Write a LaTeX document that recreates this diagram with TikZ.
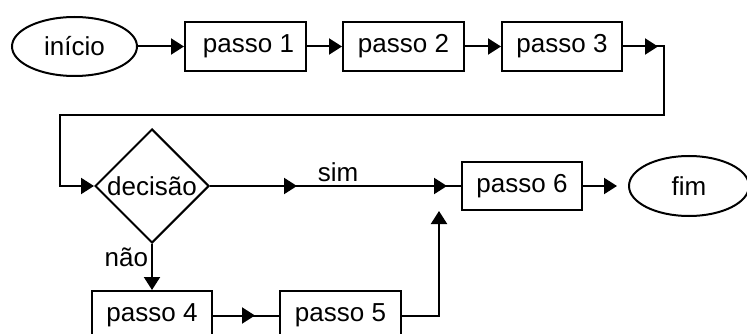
\documentclass[tikz,border=0pt]{standalone}
\usepackage{fontspec}
\setmainfont{Liberation Sans}
\usetikzlibrary{arrows.meta,shapes.geometric,decorations.markings}
\begin{document}
\begin{tikzpicture}[x=1pt,y=-1pt,line width=2pt,
  every node/.style={font=\fontsize{26}{31}\selectfont},
  stepbox/.style={draw,rectangle,minimum width=121pt,minimum height=49pt,inner sep=0pt},
  term/.style={draw,ellipse,inner sep=0pt},
  decbox/.style={draw,diamond,minimum width=114pt,minimum height=114pt,inner sep=0pt},
  tip/.style={-{Triangle[length=13pt,width=16pt]}},
  midtip/.style={postaction={decorate,decoration={markings,
      mark=at position #1 with {\arrow{Triangle[length=13pt,width=16pt]}}}}}
]
\useasboundingbox (0,0) rectangle (747,334);
\clip (0,0) rectangle (747,334);

% first row
\node[term,minimum width=125pt,minimum height=59pt] (ini) at (74.5,46.5) {início};
\node[stepbox] (p1) at (245.5,46.5) {\hspace{6pt}passo 1};
\node[stepbox] (p2) at (403.5,46.5) {passo 2};
\node[stepbox,minimum width=120pt] (p3) at (562,46.5) {passo 3};

% decision row
\node[decbox,label=center:decisão] (dec) at (152,186) {};
\node[stepbox,minimum width=120pt,minimum height=48pt] (p6) at (522,186) {passo 6};
\node[term,minimum width=120pt,minimum height=60pt] (fim) at (689,186) {fim};

% bottom row
\node[stepbox,minimum width=120pt] (p4) at (152,315.5) {passo 4};
\node[stepbox] (p5) at (340.5,315.5) {passo 5};

% helper points of the routed connectors
\coordinate (c1) at (664,115);
\coordinate (c2) at (60,115);
\coordinate (j) at ([xshift=-22pt]p6.south west);

% connectors
\draw[tip] (ini) -- (p1);
\draw[tip] (p1) -- (p2);
\draw[tip] (p2) -- (p3);
\draw[tip,midtip=35pt] (p3.east) -| (c1) -- (c2) |- (dec.west);
\draw[midtip=87pt,midtip=237pt] (dec.east) -- (p6.west)
  node[pos=0.51,above,inner sep=3pt] {sim};
\draw[tip] (dec.south) -- (p4.north)
  node[pos=0.3,left,inner sep=3pt] {não};
\draw[midtip=42pt] (p4) -- (p5);
\draw[tip] (p5.east) -| (j);
\draw[tip,shorten >=11pt] (p6) -- (fim);
\end{tikzpicture}
\end{document}
